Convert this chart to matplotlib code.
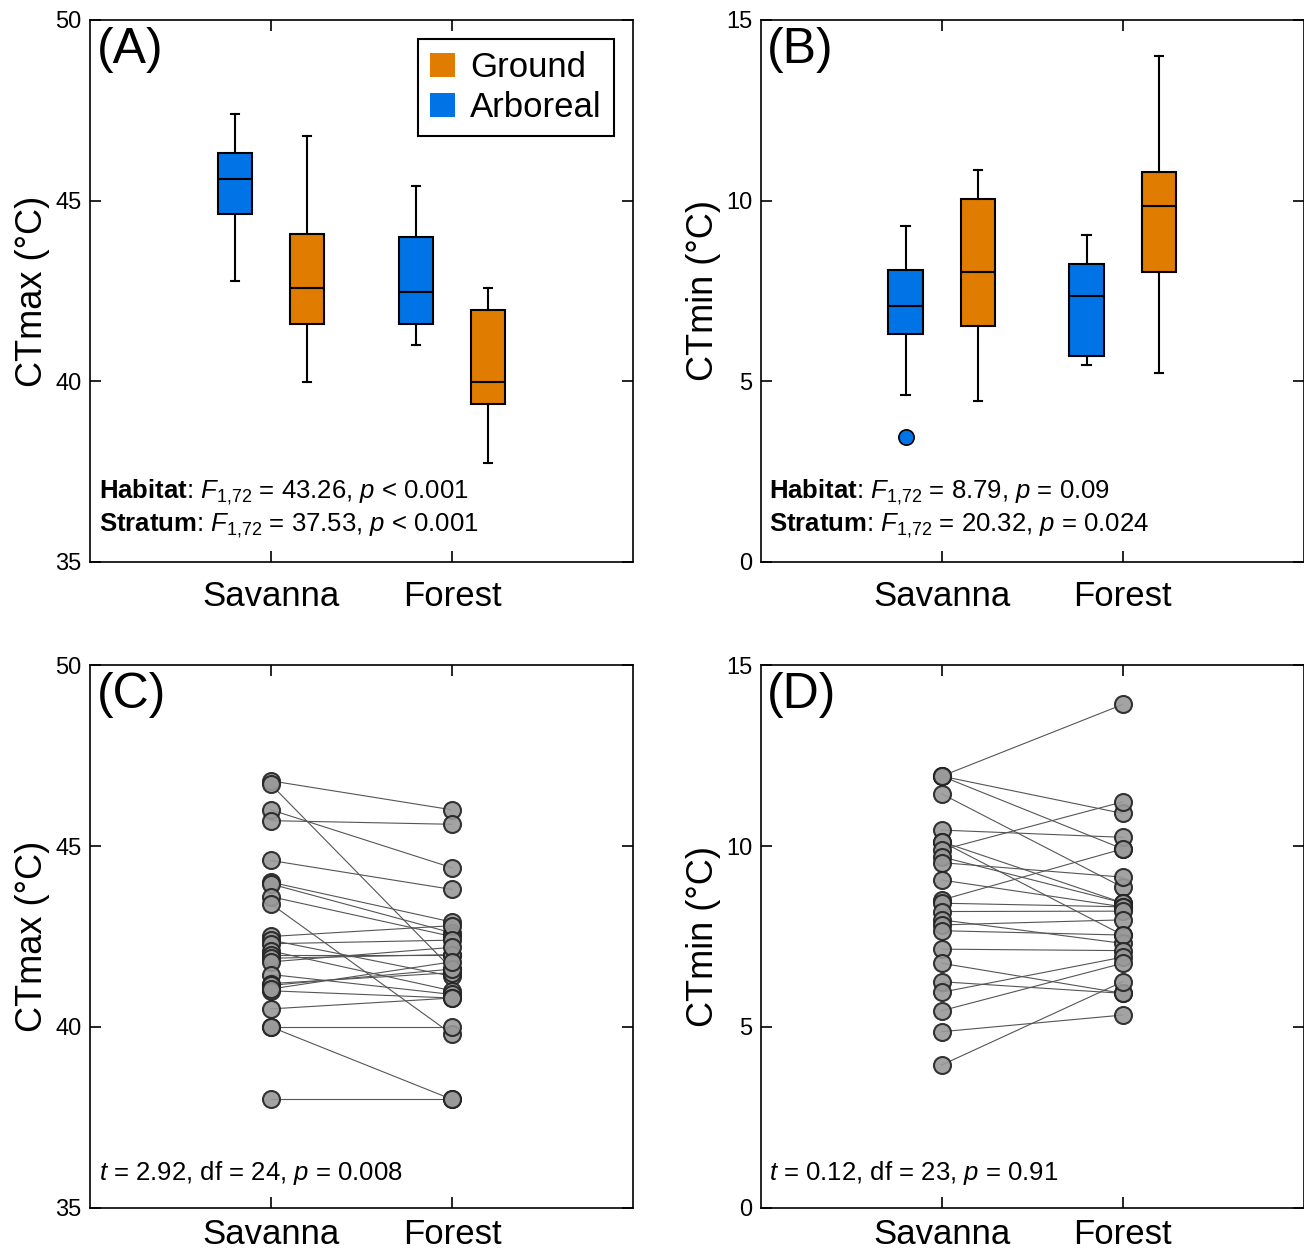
import matplotlib
matplotlib.use("Agg")
import matplotlib.pyplot as plt
from matplotlib.patches import Patch

plt.rcParams['font.family'] = ['Liberation Sans', 'DejaVu Sans']
plt.rcParams['mathtext.fontset'] = 'custom'
plt.rcParams['mathtext.rm'] = 'Liberation Sans'
plt.rcParams['mathtext.it'] = 'Liberation Sans:italic'
plt.rcParams['mathtext.bf'] = 'Liberation Sans:bold'

# box summaries: Savanna arboreal, Savanna ground, Forest arboreal, Forest ground
box_groups = ["Arboreal", "Ground", "Arboreal", "Ground"]
ctmax_whislo = [42.78, 39.97, 40.99, 37.75]
ctmax_q1 = [44.64, 41.59, 41.59, 39.37]
ctmax_med = [45.59, 42.58, 42.46, 39.98]
ctmax_q3 = [46.32, 44.07, 44.00, 41.98]
ctmax_whishi = [47.39, 46.79, 45.39, 42.58]
ctmax_fliers = [[], [], [], []]

ctmin_whislo = [4.61, 4.46, 5.46, 5.22]
ctmin_q1 = [6.30, 6.53, 5.71, 8.02]
ctmin_med = [7.07, 8.02, 7.36, 9.85]
ctmin_q3 = [8.07, 10.05, 8.25, 10.79]
ctmin_whishi = [9.29, 10.85, 9.05, 14.01]
ctmin_fliers = [[3.45], [], [], []]

habitats = ["Savanna", "Forest"]

# paired species values (savanna vs forest)
ctmax_savanna = [46.8, 46.7, 46.0, 45.7, 44.6, 44.0, 43.95, 43.6, 43.4, 42.5, 42.4, 42.3, 42.1,
                 42.0, 41.9, 41.8, 41.45, 41.2, 41.15, 41.0, 41.05, 40.5, 40.0, 40.0, 38.0]
ctmax_forest = [46.0, 41.6, 44.4, 45.6, 43.8, 42.9, 42.6, 42.5, 39.8, 42.8, 41.4, 42.4, 41.0,
                42.0, 42.0, 42.2, 40.9, 41.5, 41.6, 40.8, 41.8, 40.8, 40.0, 38.0, 38.0]

ctmin_savanna = [11.93, 11.93, 11.93, 11.44, 10.44, 10.12, 10.12, 9.89, 9.70, 9.54, 9.06, 8.51,
                 8.42, 8.19, 7.96, 7.82, 7.66, 7.15, 6.76, 6.25, 5.96, 5.45, 4.87, 3.95]
ctmin_forest = [13.91, 10.90, 9.92, 8.86, 10.24, 8.43, 7.54, 11.22, 8.43, 9.14, 8.32, 9.92,
                8.32, 8.20, 7.31, 7.96, 7.54, 7.11, 5.93, 5.93, 6.93, 6.76, 5.33, 6.25]

colors = {"Ground": "#E07C00", "Arboreal": "#0073E6"}
positions = [0.8, 1.2, 1.8, 2.2]


def style_axis(ax, ylim, yticks, ylabel, xpad):
    ax.set_xlim(0, 3)
    ax.set_ylim(*ylim)
    ax.set_yticks(yticks)
    ax.set_xticks([1, 2])
    ax.set_xticklabels(habitats, fontsize=25)
    ax.set_ylabel(ylabel, fontsize=26, labelpad=4)
    ax.tick_params(axis='y', direction='in', length=8, width=1.2, labelsize=17,
                   right=True, pad=6)
    ax.tick_params(axis='x', direction='in', length=8, width=1.2, top=True, pad=xpad)
    for s in ax.spines.values():
        s.set_linewidth(1.2)


def boxes(ax, whislo, q1, med, q3, whishi, fliers):
    stats = []
    for i in range(4):
        stats.append(dict(whislo=whislo[i], q1=q1[i], med=med[i], q3=q3[i],
                          whishi=whishi[i], fliers=fliers[i]))
    bp = ax.bxp(stats, positions=positions, widths=0.19, patch_artist=True,
                showfliers=True, capwidths=0.045, manage_ticks=False,
                boxprops=dict(linewidth=1.5, edgecolor='black'),
                medianprops=dict(color='black', linewidth=1.5),
                whiskerprops=dict(linewidth=1.5),
                capprops=dict(linewidth=1.5))
    for patch, g in zip(bp['boxes'], box_groups):
        patch.set_facecolor(colors[g])
    for fl, g in zip(bp['fliers'], box_groups):
        fl.set(marker='o', markerfacecolor=colors[g], markeredgecolor='black',
               markersize=11, markeredgewidth=1.2)


def pairs(ax, sav, forest):
    for a, b in zip(sav, forest):
        ax.plot([1, 2], [a, b], color='#555555', linewidth=0.8, zorder=1)
    ax.scatter([1] * len(sav), sav, s=150, color='#999999', edgecolor='#222222',
               linewidth=1.5, alpha=0.9, zorder=2)
    ax.scatter([2] * len(forest), forest, s=150, color='#999999', edgecolor='#222222',
               linewidth=1.5, alpha=0.9, zorder=2)


fig = plt.figure(figsize=(13.04, 12.51), dpi=100)
axA = fig.add_axes([0.069, 0.5508, 0.4164, 0.4333])
axB = fig.add_axes([0.5834, 0.5508, 0.4164, 0.4333])
axC = fig.add_axes([0.069, 0.0344, 0.4164, 0.434])
axD = fig.add_axes([0.5834, 0.0344, 0.4164, 0.434])

boxes(axA, ctmax_whislo, ctmax_q1, ctmax_med, ctmax_q3, ctmax_whishi, ctmax_fliers)
boxes(axB, ctmin_whislo, ctmin_q1, ctmin_med, ctmin_q3, ctmin_whishi, ctmin_fliers)
pairs(axC, ctmax_savanna, ctmax_forest)
pairs(axD, ctmin_savanna, ctmin_forest)

style_axis(axA, (35, 50), [35, 40, 45, 50], "CTmax (°C)", 13)
style_axis(axB, (0, 15), [0, 5, 10, 15], "CTmin (°C)", 13)
style_axis(axC, (35, 50), [35, 40, 45, 50], "CTmax (°C)", 7)
style_axis(axD, (0, 15), [0, 5, 10, 15], "CTmin (°C)", 7)

for ax, lab in zip([axA, axB, axC, axD], ["(A)", "(B)", "(C)", "(D)"]):
    ax.text(0.012, 0.945, lab, transform=ax.transAxes, fontsize=36, ha='left', va='center')

axA.text(0.016, 0.129, r"$\mathbf{Habitat}$: $F_{1{,}72}$ = 43.26, $p$ < 0.001",
         transform=axA.transAxes, fontsize=18.5, va='center')
axA.text(0.016, 0.066, r"$\mathbf{Stratum}$: $F_{1{,}72}$ = 37.53, $p$ < 0.001",
         transform=axA.transAxes, fontsize=18.5, va='center')
axB.text(0.016, 0.129, r"$\mathbf{Habitat}$: $F_{1{,}72}$ = 8.79, $p$ = 0.09",
         transform=axB.transAxes, fontsize=18.5, va='center')
axB.text(0.016, 0.066, r"$\mathbf{Stratum}$: $F_{1{,}72}$ = 20.32, $p$ = 0.024",
         transform=axB.transAxes, fontsize=18.5, va='center')
axC.text(0.016, 0.064, r"$t$ = 2.92, df = 24, $p$ = 0.008",
         transform=axC.transAxes, fontsize=18.5, va='center')
axD.text(0.016, 0.064, r"$t$ = 0.12, df = 23, $p$ = 0.91",
         transform=axD.transAxes, fontsize=18.5, va='center')

handles = [Patch(facecolor=colors["Ground"], edgecolor='none', label="Ground"),
           Patch(facecolor=colors["Arboreal"], edgecolor='none', label="Arboreal")]
leg = axA.legend(handles=handles, loc='upper right', bbox_to_anchor=(0.965, 0.965),
                 borderaxespad=0, fontsize=25, fancybox=False, edgecolor='black',
                 framealpha=1, handlelength=0.7, handleheight=0.7, handletextpad=0.45,
                 labelspacing=0.2, borderpad=0.35)
leg.get_frame().set_linewidth(1.5)

plt.savefig("out.png", dpi=100)
